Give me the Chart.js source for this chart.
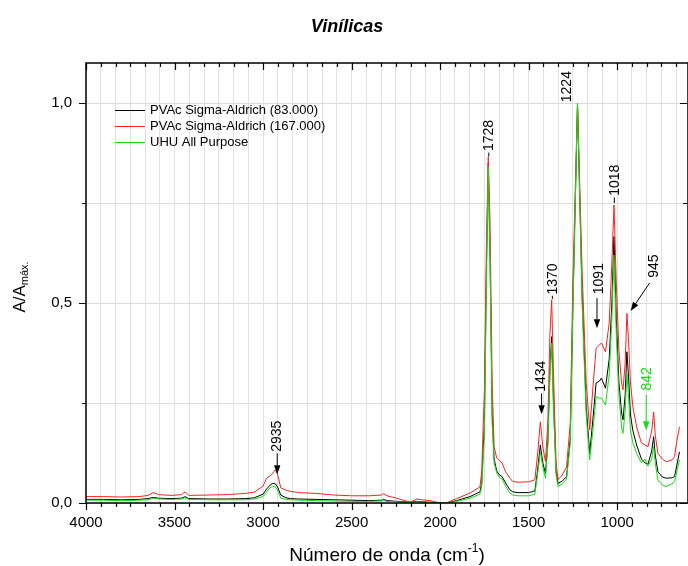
<!DOCTYPE html>
<html>
<head>
<meta charset="utf-8">
<script src="https://cdn.jsdelivr.net/npm/chart.js@4.4.1/dist/chart.umd.min.js"></script>
<style>
  html, body { margin: 0; padding: 0; background: #fff; }
  #wrap { width: 688px; height: 566px; }
</style>
</head>
<body>
<div id="wrap"><canvas id="chart" width="688" height="566"></canvas></div>
<script>
// FTIR spectra - Vinílicas

const seriesNames = ['PVAc Sigma-Aldrich (83.000)', 'PVAc Sigma-Aldrich (167.000)', 'UHU All Purpose'];
const seriesColors = ['#000000', '#ff2020', '#10e010'];

// wavenumbers (cm-1), shared by the three spectra
const wavenumbers = [
    4000, 3900, 3800, 3700, 3650, 3620, 3590, 3520, 3460, 3440, 3420, 3300, 3200, 3100, 3050,
    3000, 2980, 2960, 2945, 2930, 2918, 2900, 2870, 2846, 2800, 2700, 2600, 2500, 2400, 2330,
    2320, 2300, 2245, 2170, 2130, 2100, 2057, 2000, 1962, 1906, 1831, 1775, 1765, 1750, 1738,
    1728, 1718, 1706, 1695, 1680, 1665, 1650, 1630, 1606, 1590, 1560, 1500, 1465, 1450, 1434,
    1420, 1405, 1392, 1380, 1370, 1360, 1345, 1334, 1310, 1286, 1265, 1250, 1224, 1198, 1175,
    1155, 1135, 1119, 1100, 1089, 1066, 1045, 1030, 1018, 1005, 990, 975, 967, 955, 945,
    935, 925, 911, 890, 863, 842, 826, 805, 794, 785, 770, 745, 723, 690, 676, 665, 648
];

const blackValues = [
    0.009, 0.009, 0.008, 0.009, 0.011, 0.014, 0.012, 0.011, 0.012, 0.016, 0.011, 0.010, 0.010, 0.011, 0.013,
    0.022, 0.035, 0.045, 0.049, 0.048, 0.040, 0.020, 0.013, 0.011, 0.010, 0.009, 0.008, 0.007, 0.006, 0.007,
    0.009, 0.006, 0.004, 0.002, 0.004, 0.003, 0.002, 0.000, 0.000, 0.006, 0.016, 0.028, 0.050, 0.200, 0.600,
    0.850, 0.620, 0.220, 0.110, 0.080, 0.070, 0.066, 0.050, 0.033, 0.028, 0.026, 0.026, 0.030, 0.080, 0.145,
    0.100, 0.074, 0.150, 0.330, 0.416, 0.260, 0.080, 0.049, 0.055, 0.066, 0.160, 0.500, 0.995, 0.520, 0.240,
    0.124, 0.220, 0.300, 0.305, 0.312, 0.287, 0.360, 0.500, 0.666, 0.460, 0.300, 0.225, 0.208, 0.270, 0.378,
    0.310, 0.220, 0.180, 0.145, 0.110, 0.100, 0.097, 0.130, 0.166, 0.120, 0.078, 0.065, 0.062, 0.063, 0.066,
    0.090, 0.128
];

const redValues = [
    0.016, 0.016, 0.015, 0.016, 0.019, 0.026, 0.021, 0.019, 0.021, 0.028, 0.019, 0.020, 0.021, 0.024, 0.027,
    0.042, 0.062, 0.068, 0.075, 0.083, 0.072, 0.038, 0.032, 0.029, 0.026, 0.024, 0.020, 0.018, 0.018, 0.020,
    0.024, 0.018, 0.012, 0.002, 0.010, 0.008, 0.006, 0.000, 0.001, 0.011, 0.025, 0.040, 0.080, 0.280, 0.660,
    0.865, 0.700, 0.300, 0.140, 0.112, 0.106, 0.100, 0.078, 0.062, 0.054, 0.052, 0.053, 0.058, 0.120, 0.203,
    0.140, 0.104, 0.200, 0.420, 0.508, 0.330, 0.100, 0.058, 0.070, 0.090, 0.200, 0.560, 1.000, 0.580, 0.300,
    0.183, 0.300, 0.387, 0.395, 0.400, 0.378, 0.450, 0.600, 0.745, 0.550, 0.380, 0.300, 0.283, 0.350, 0.474,
    0.400, 0.300, 0.240, 0.190, 0.150, 0.145, 0.141, 0.180, 0.228, 0.170, 0.124, 0.110, 0.103, 0.108, 0.116,
    0.150, 0.190
];

const greenValues = [
    0.007, 0.007, 0.006, 0.007, 0.008, 0.012, 0.010, 0.009, 0.010, 0.013, 0.009, 0.008, 0.008, 0.008, 0.010,
    0.016, 0.028, 0.038, 0.042, 0.040, 0.032, 0.012, 0.009, 0.008, 0.007, 0.006, 0.005, 0.004, 0.004, 0.005,
    0.006, 0.004, 0.003, 0.001, 0.003, 0.002, 0.001, 0.000, 0.000, 0.004, 0.012, 0.022, 0.042, 0.170, 0.560,
    0.840, 0.600, 0.200, 0.100, 0.075, 0.064, 0.060, 0.042, 0.025, 0.020, 0.018, 0.018, 0.022, 0.070, 0.128,
    0.090, 0.062, 0.140, 0.320, 0.400, 0.240, 0.070, 0.041, 0.048, 0.060, 0.150, 0.480, 1.000, 0.500, 0.220,
    0.108, 0.190, 0.266, 0.262, 0.262, 0.245, 0.320, 0.460, 0.620, 0.420, 0.270, 0.190, 0.174, 0.230, 0.324,
    0.260, 0.180, 0.150, 0.124, 0.100, 0.110, 0.092, 0.110, 0.141, 0.100, 0.058, 0.045, 0.041, 0.048, 0.053,
    0.075, 0.108
];

// axes
const xMajorTicks = [4000, 3500, 3000, 2500, 2000, 1500, 1000];
const xMinorPerMajor = 6;      // Origin style: 5 minor ticks -> 6 intervals
const yMajorTicks = [0, 0.5, 1.0];
const yTickLabels = ['0,0', '0,5', '1,0'];
const yMinorPerMajor = 2;

// peak labels
const peakLabels = ['2935', '1728', '1434', '1370', '1224', '1091', '1018', '945', '842'];

// where each label sits (data units): text x, text bottom, arrow from/to
const peakMarks = [
    { x: 2920, textY: 0.128, ax1: 2920, ay1: 0.124, ax2: 2920, ay2: 0.072, head: true,  color: '#000' },
    { x: 1723, textY: 0.880, ax1: 1725, ay1: 0.876, ax2: 1725, ay2: 0.866, head: false, color: '#000' },
    { x: 1430, textY: 0.278, ax1: 1427, ay1: 0.274, ax2: 1427, ay2: 0.222, head: true,  color: '#000' },
    { x: 1362, textY: 0.521, ax1: 1366, ay1: 0.518, ax2: 1366, ay2: 0.510, head: false, color: '#000' },
    { x: 1283, textY: 1.002, ax1: null },
    { x: 1104, textY: 0.522, ax1: 1114, ay1: 0.512, ax2: 1114, ay2: 0.437, head: true,  color: '#000' },
    { x: 1009, textY: 0.768, ax1: 1016, ay1: 0.764, ax2: 1016, ay2: 0.750, head: false, color: '#000' },
    { x: 789,  textY: 0.563, ax1: 817,  ay1: 0.550, ax2: 924,  ay2: 0.480, head: true,  color: '#000' },
    { x: 828,  textY: 0.281, ax1: 836,  ay1: 0.270, ax2: 836,  ay2: 0.182, head: true,  color: '#10e010', textColor: '#10e010' }
];

const FONT = '"Liberation Sans", Arial, sans-serif';

function toPoints(values) {
    return wavenumbers.map((w, i) => ({ x: w, y: values[i] }));
}

function arrow(ctx, x1, y1, x2, y2, head, color) {
    ctx.strokeStyle = color;
    ctx.fillStyle = color;
    ctx.lineWidth = 1;
    const ang = Math.atan2(y2 - y1, x2 - x1);
    const hl = head ? 9 : 0;
    ctx.beginPath();
    ctx.moveTo(x1, y1);
    ctx.lineTo(x2 - Math.cos(ang) * hl, y2 - Math.sin(ang) * hl);
    ctx.stroke();
    if (head) {
        ctx.beginPath();
        ctx.moveTo(x2, y2);
        ctx.lineTo(x2 - Math.cos(ang) * hl - Math.sin(ang) * 3.2, y2 - Math.sin(ang) * hl + Math.cos(ang) * 3.2);
        ctx.lineTo(x2 - Math.cos(ang) * hl + Math.sin(ang) * 3.2, y2 - Math.sin(ang) * hl - Math.cos(ang) * 3.2);
        ctx.closePath();
        ctx.fill();
    }
}

// frame, ticks, legend, annotations and titles
const decorPlugin = {
    id: 'decor',
    afterDraw(chart) {
        const ctx = chart.ctx;
        const a = chart.chartArea;
        const xs = chart.scales.x;
        const ys = chart.scales.y;
        ctx.save();

        // frame
        ctx.strokeStyle = '#000';
        ctx.lineWidth = 1.5;
        ctx.strokeRect(a.left, a.top, a.right - a.left, a.bottom - a.top);

        // x ticks
        ctx.lineWidth = 1.2;
        const xStep = 500 / xMinorPerMajor;
        for (let k = 0; ; k++) {
            const v = 4000 - k * xStep;
            if (v < xs.min) break;
            const px = Math.round(xs.getPixelForValue(v)) + 0.5;
            const major = k % xMinorPerMajor === 0;
            const len = major ? 7 : 4;
            ctx.beginPath();
            ctx.moveTo(px, a.bottom); ctx.lineTo(px, a.bottom + len);
            ctx.moveTo(px, a.top); ctx.lineTo(px, a.top + len);
            ctx.stroke();
        }
        // y ticks
        const yStep = 0.5 / yMinorPerMajor;
        for (let k = 0; k * yStep <= ys.max + 1e-9; k++) {
            const v = k * yStep;
            const py = Math.round(ys.getPixelForValue(v)) + 0.5;
            const major = k % yMinorPerMajor === 0;
            const len = major ? 7 : 4;
            ctx.beginPath();
            ctx.moveTo(a.left, py); ctx.lineTo(a.left - len, py);
            ctx.moveTo(a.right - 1, py); ctx.lineTo(a.right - 1 - len, py);
            ctx.stroke();
        }

        // legend
        ctx.font = '13px ' + FONT;
        ctx.textBaseline = 'middle';
        ctx.textAlign = 'left';
        seriesNames.forEach((name, i) => {
            const y = 110 + i * 16;
            ctx.strokeStyle = seriesColors[i];
            ctx.lineWidth = 1;
            ctx.beginPath();
            ctx.moveTo(115, y + 0.5); ctx.lineTo(145, y + 0.5);
            ctx.stroke();
            ctx.fillStyle = '#000';
            ctx.fillText(name, 150, y);
        });

        // peak annotations
        ctx.font = '14px ' + FONT;
        peakMarks.forEach((m, i) => {
            const tx = xs.getPixelForValue(m.x);
            const ty = ys.getPixelForValue(m.textY);
            ctx.save();
            ctx.translate(tx, ty);
            ctx.rotate(-Math.PI / 2);
            ctx.fillStyle = m.textColor || '#000';
            ctx.textAlign = 'left';
            ctx.textBaseline = 'middle';
            ctx.fillText(peakLabels[i], 0, 0);
            ctx.restore();
            if (m.ax1 !== null) {
                arrow(ctx,
                    xs.getPixelForValue(m.ax1), ys.getPixelForValue(m.ay1),
                    xs.getPixelForValue(m.ax2), ys.getPixelForValue(m.ay2),
                    m.head, m.color);
            }
        });

        // title
        ctx.fillStyle = '#000';
        ctx.textAlign = 'center';
        ctx.textBaseline = 'alphabetic';
        ctx.font = 'italic bold 18px ' + FONT;
        ctx.fillText('Vinílicas', 347, 32);

        // x axis title with superscript
        const cx = (a.left + a.right) / 2;
        const base = 561;
        ctx.font = '19px ' + FONT;
        const p1 = 'Número de onda (cm';
        const p3 = ')';
        const w1 = ctx.measureText(p1).width;
        const w3 = ctx.measureText(p3).width;
        ctx.font = '12px ' + FONT;
        const w2 = ctx.measureText('-1').width;
        let x0 = cx - (w1 + w2 + w3) / 2;
        ctx.textAlign = 'left';
        ctx.font = '19px ' + FONT;
        ctx.fillText(p1, x0, base);
        ctx.font = '12px ' + FONT;
        ctx.fillText('-1', x0 + w1, base - 9);
        ctx.font = '19px ' + FONT;
        ctx.fillText(p3, x0 + w1 + w2, base);

        // y axis title with subscript
        ctx.save();
        ctx.translate(25, 287);
        ctx.rotate(-Math.PI / 2);
        ctx.font = '17px ' + FONT;
        const ya = 'A/A';
        const wa = ctx.measureText(ya).width;
        ctx.font = '11px ' + FONT;
        const wb = ctx.measureText('máx.').width;
        const y0 = -(wa + wb) / 2;
        ctx.font = '17px ' + FONT;
        ctx.fillText(ya, y0, 0);
        ctx.font = '11px ' + FONT;
        ctx.fillText('máx.', y0 + wa, 3);
        ctx.restore();

        ctx.restore();
    }
};

const datasets = [
    { label: seriesNames[0], data: toPoints(blackValues), borderColor: seriesColors[0], order: 2 },
    { label: seriesNames[1], data: toPoints(redValues), borderColor: seriesColors[1], order: 1 },
    { label: seriesNames[2], data: toPoints(greenValues), borderColor: seriesColors[2], order: 0 }
].map(d => Object.assign(d, { borderWidth: 1, pointRadius: 0, tension: 0, fill: false }));

new Chart(document.getElementById('chart'), {
    type: 'line',
    data: { datasets: datasets },
    options: {
        responsive: false,
        animation: false,
        devicePixelRatio: 1,
        layout: { padding: { top: 63, right: 0, left: 0, bottom: 0 } },
        plugins: {
            legend: { display: false },
            title: { display: false },
            tooltip: { enabled: false }
        },
        scales: {
            x: {
                type: 'linear',
                reverse: true,
                min: 600,
                max: 4000,
                afterBuildTicks(scale) {
                    const ticks = [];
                    for (let k = 0; 4000 - k * 500 / xMinorPerMajor >= scale.min; k++) {
                        ticks.push({ value: 4000 - k * 500 / xMinorPerMajor });
                    }
                    scale.ticks = ticks;
                },
                afterFit(scale) { scale.height = 63; },
                ticks: {
                    autoSkip: false,
                    maxRotation: 0,
                    padding: 11,
                    color: '#000',
                    font: { family: FONT, size: 15 },
                    callback(value) {
                        const hit = xMajorTicks.find(t => Math.abs(t - value) < 1);
                        return hit !== undefined ? String(hit) : '';
                    }
                },
                grid: { color: '#e2e2e2', lineWidth: 1, drawTicks: false },
                border: { display: false }
            },
            y: {
                type: 'linear',
                min: 0,
                max: 1.1,
                afterBuildTicks(scale) {
                    const ticks = [];
                    for (let k = 0; k * 0.5 / yMinorPerMajor <= 1.0 + 1e-9; k++) {
                        ticks.push({ value: k * 0.5 / yMinorPerMajor });
                    }
                    scale.ticks = ticks;
                },
                afterFit(scale) { scale.width = 86; },
                ticks: {
                    padding: 14,
                    color: '#000',
                    font: { family: FONT, size: 15 },
                    callback(value) {
                        const i = yMajorTicks.findIndex(t => Math.abs(t - value) < 1e-6);
                        return i >= 0 ? yTickLabels[i] : '';
                    }
                },
                grid: { color: '#dcdcdc', lineWidth: 1, drawTicks: false },
                border: { display: false }
            }
        }
    },
    plugins: [decorPlugin]
});
</script>
</body>
</html>
